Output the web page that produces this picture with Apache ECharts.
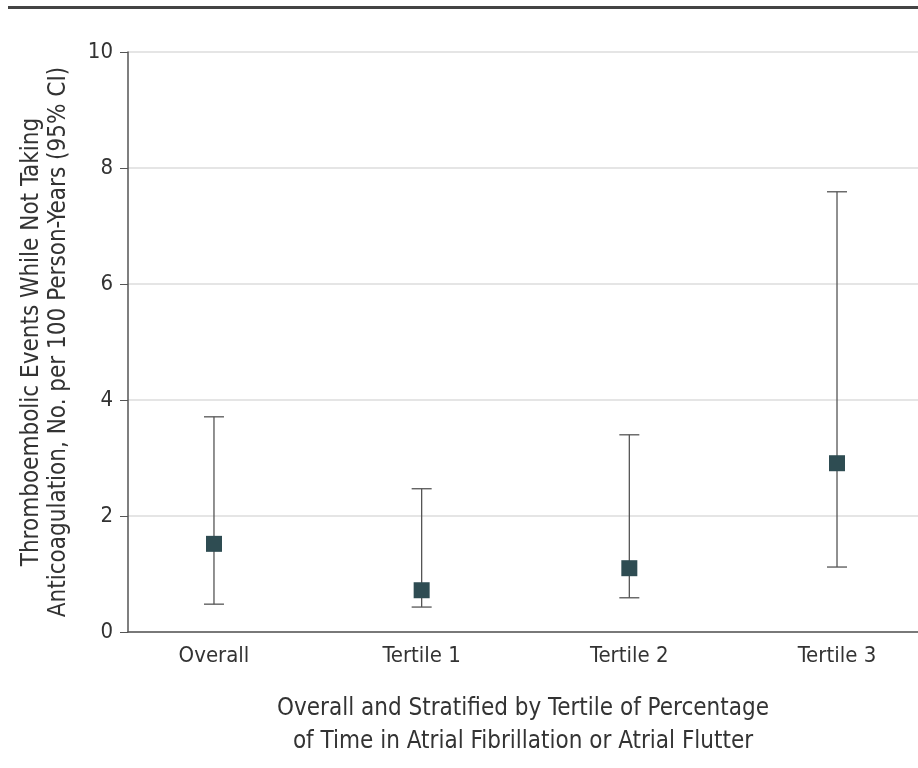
<!DOCTYPE html>
<html><head><meta charset="utf-8">
<script src="https://cdn.jsdelivr.net/npm/echarts@6/dist/echarts.min.js"></script>
<style>html,body{margin:0;padding:0;background:#fff}#c{width:918px;height:768px}</style>
</head><body><div id="c"></div>
<script>
const categories = ['Overall', 'Tertile 1', 'Tertile 2', 'Tertile 3'];
const estimates = [1.52, 0.72, 1.10, 2.91];
const lowerCI = [0.48, 0.43, 0.59, 1.12];
const upperCI = [3.71, 2.47, 3.40, 7.59];
const yTicks = [0, 2, 4, 6, 8, 10];

const FONT = '"Liberation Sans Narrow", "DejaVu Sans Condensed", "Open Sans", sans-serif';
const pos = categories.map((c, i) => i + 1);

const chart = echarts.init(document.getElementById('c'));
chart.setOption({
  animation: false,
  textStyle: { fontFamily: FONT },
  graphic: [{ type: 'rect', shape: { x: 8, y: 6, width: 910, height: 3 }, style: { fill: '#444' } }],
  grid: { left: 128, right: 0, top: 52, bottom: 136, outerBoundsMode: 'none', containLabel: false },
  xAxis: {
    type: 'value', min: 0.586, max: 4.39,
    splitLine: { show: false },
    axisLine: { show: true, lineStyle: { color: '#555', width: 1.5 } },
    axisTick: { show: false },
    axisLabel: { customValues: pos, formatter: v => categories[Math.round(v) - 1] || '', color: '#333', fontSize: 22, margin: 13, fontFamily: FONT },
    name: 'Overall and Stratified by Tertile of Percentage\nof Time in Atrial Fibrillation or Atrial Flutter',
    nameLocation: 'middle', nameGap: 60,
    nameTextStyle: { fontSize: 24, color: '#333', lineHeight: 33, fontFamily: FONT }
  },
  yAxis: {
    type: 'value', min: 0, max: 10, interval: 2,
    axisLine: { show: true, lineStyle: { color: '#555', width: 1.5 } },
    axisTick: { show: true, length: 8, lineStyle: { color: '#555' } },
    splitLine: { lineStyle: { color: '#ddd', width: 1.5 } },
    axisLabel: { color: '#333', fontSize: 22, margin: 15, fontFamily: FONT, customValues: yTicks },
    name: 'Thromboembolic Events While Not Taking\nAnticoagulation, No. per 100 Person-Years (95% CI)',
    nameLocation: 'middle', nameGap: 56, nameRotate: 90,
    nameTextStyle: { fontSize: 24, color: '#333', lineHeight: 27, fontFamily: FONT }
  },
  series: [
    {
      type: 'custom',
      data: pos.map((p, i) => [p, lowerCI[i], upperCI[i]]),
      renderItem: function (params, api) {
        const x = api.value(0);
        const lo = api.coord([x, api.value(1)]);
        const hi = api.coord([x, api.value(2)]);
        const hw = 10;
        const st = { stroke: '#555', lineWidth: 1.3 };
        return { type: 'group', children: [
          { type: 'line', shape: { x1: lo[0], y1: lo[1], x2: hi[0], y2: hi[1] }, style: st },
          { type: 'line', shape: { x1: lo[0] - hw, y1: lo[1], x2: lo[0] + hw, y2: lo[1] }, style: st },
          { type: 'line', shape: { x1: hi[0] - hw, y1: hi[1], x2: hi[0] + hw, y2: hi[1] }, style: st }
        ]};
      },
      z: 2
    },
    {
      type: 'scatter',
      data: pos.map((p, i) => [p, estimates[i]]),
      symbol: 'rect', symbolSize: 16,
      itemStyle: { color: '#2e4c52', opacity: 1 },
      z: 3
    }
  ]
});
</script></body></html>
